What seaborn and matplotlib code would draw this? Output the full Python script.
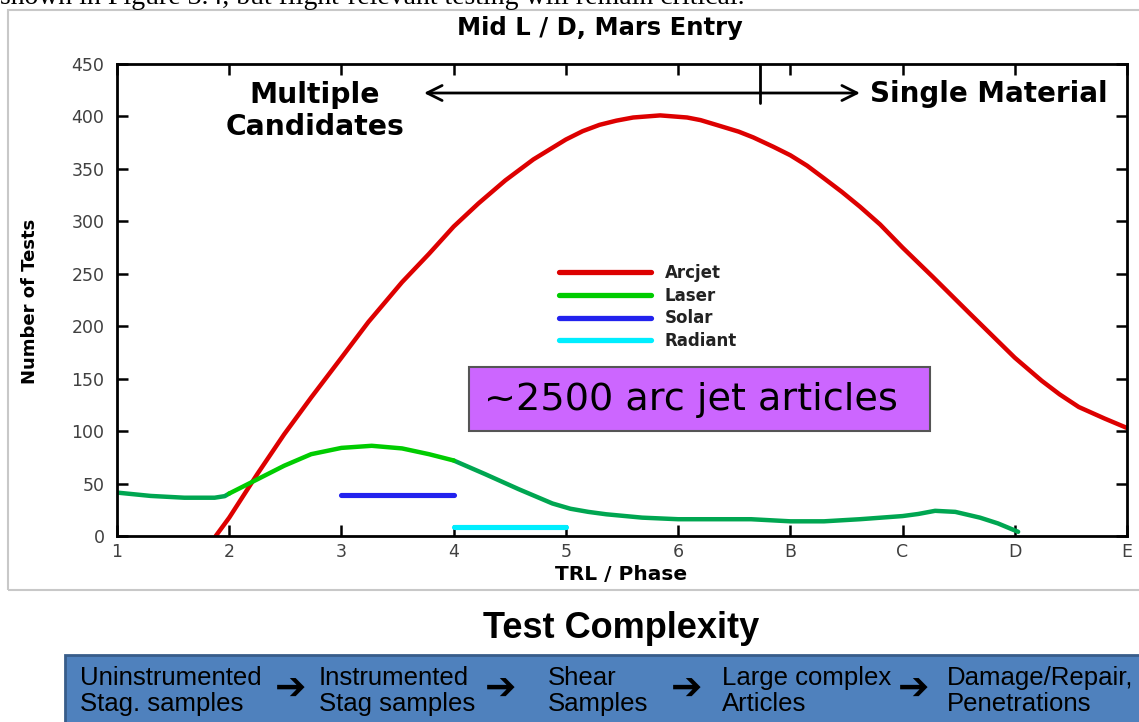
import matplotlib
matplotlib.use("Agg")
import matplotlib.pyplot as plt
import matplotlib.patches as mpatches
import seaborn as sns
import numpy as np

# ---------------- data ----------------
tick_labels = ["1", "2", "3", "4", "5", "6", "B", "C", "D", "E"]
y_ticks = [0, 50, 100, 150, 200, 250, 300, 350, 400, 450]

arcjet_x = [1.88, 2.0, 2.25, 2.49, 2.73, 3.0, 3.24, 3.54, 3.78, 4.0, 4.22, 4.46, 4.71,
            5.0, 5.15, 5.30, 5.45, 5.60, 5.84, 6.08, 6.20, 6.34, 6.54, 6.67, 6.85, 7.0, 7.15,
            7.30, 7.46, 7.62, 7.8, 8.0, 8.27, 8.60, 8.8, 9.0, 9.24, 9.4, 9.57, 9.8, 10.0]
arcjet_y = [0, 17.5, 59, 97, 132, 170, 204, 242, 269, 295, 317, 339, 359,
            378, 386, 392, 396, 399, 401, 399, 396.5, 392, 385.5, 380, 371, 363, 353,
            341, 328, 314, 297, 275, 247, 212, 191, 170, 148, 135, 123, 112, 103]

laser_x = [1.0, 1.30, 1.60, 1.87, 1.96, 2.0, 2.25, 2.49, 2.73, 3.0, 3.27, 3.54, 3.78,
           4.0, 4.28, 4.58, 4.88, 5.04, 5.2, 5.36, 5.68, 6.0, 6.33, 6.65, 7.0, 7.30,
           7.62, 8.0, 8.14, 8.29, 8.47, 8.69, 8.85, 9.03]
laser_y = [41.4, 38.2, 36.5, 36.5, 38, 40.5, 54, 67, 78, 84, 86, 83.5, 78,
           72, 59, 44.6, 31, 26, 23, 20.7, 17.5, 16, 16, 16, 14, 14,
           16, 19, 21, 24, 23, 17.5, 12, 4]

solar_x = [3.0, 4.0]
solar_y = [39, 39]
radiant_x = [4.0, 5.0]
radiant_y = [9, 9]

steps = ["Uninstrumented\nStag. samples", "Instrumented\nStag samples",
         "Shear\nSamples", "Large complex\nArticles", "Damage/Repair,\nPenetrations"]

# ---------------- styling ----------------
sns.set_theme(style="ticks")
SANS = ["DejaVu Sans"]
plt.rcParams["font.family"] = SANS
plt.rcParams["text.color"] = "black"
ARIAL = ["Liberation Sans", "DejaVu Sans"]

W, H = 1139, 722
fig = plt.figure(figsize=(W / 100, H / 100), dpi=100)
fig.patch.set_facecolor("white")


def fx(px):
    return px / W


def fy(py):
    return 1 - py / H


# frame around chart
fig.patches.append(mpatches.Rectangle((fx(8), fy(590)), fx(1200) - fx(8), fy(10) - fy(590),
                                      transform=fig.transFigure, fill=False,
                                      edgecolor="#c8c8c8", linewidth=1.5))

# clipped body text at the top (cut off in the reference as well)
fig.text(fx(0), fy(4), "shown in Figure 3.4, but flight-relevant testing will remain critical.",
         family=["Liberation Serif", "DejaVu Serif"], fontsize=20, ha="left", va="baseline")

ax = fig.add_axes([fx(117), fy(536), fx(1127) - fx(117), fy(64) - fy(536)])
ax.set_facecolor("white")

RED = "#dd0000"
GREEN_D = "#00a651"
GREEN_B = "#00cc00"
BLUE = "#2222ee"
CYAN = "#00eeff"
LW = 3.2

lx = np.array(laser_x)
ly = np.array(laser_y)
left = lx <= 2.0
mid = (lx >= 2.0) & (lx <= 4.0)
right = lx >= 4.0

sns.lineplot(x=arcjet_x, y=arcjet_y, ax=ax, color=RED, linewidth=LW, label="Arcjet")
sns.lineplot(x=lx[left], y=ly[left], ax=ax, color=GREEN_D, linewidth=LW, label="_nolegend_")
sns.lineplot(x=lx[right], y=ly[right], ax=ax, color=GREEN_D, linewidth=LW, label="_nolegend_")
sns.lineplot(x=lx[mid], y=ly[mid], ax=ax, color=GREEN_B, linewidth=LW, label="Laser")
sns.lineplot(x=solar_x, y=solar_y, ax=ax, color=BLUE, linewidth=LW + 0.5, label="Solar")
sns.lineplot(x=radiant_x, y=radiant_y, ax=ax, color=CYAN, linewidth=LW + 0.5, label="Radiant")

ax.set_xlim(1, 10)
ax.set_ylim(0, 450)
ax.set_xticks(range(1, 11))
ax.set_xticklabels(tick_labels)
ax.set_yticks(y_ticks)
ax.tick_params(direction="in", length=8, width=1.8, top=True, right=True,
               colors="black", labelcolor="#404040", labelsize=12.5)
ax.tick_params(axis="x", pad=5)
ax.tick_params(axis="y", pad=9)
for s in ax.spines.values():
    s.set_visible(True)
    s.set_linewidth(2)
    s.set_color("black")
ax.set_xlabel("")
ax.set_ylabel("")

# legend
leg = ax.legend(loc="upper left", bbox_to_anchor=(fx(559), fy(264)),
                bbox_transform=fig.transFigure, frameon=False, handlelength=5.5,
                handletextpad=0.85, labelspacing=0.28, borderpad=0, borderaxespad=0,
                prop={"family": SANS, "weight": "bold", "size": 12})
for t in leg.get_texts():
    t.set_color("#222222")
for h in leg.get_lines():
    h.set_linewidth(3.8)

# axis labels and title
fig.text(fx(600), fy(28), "Mid L / D, Mars Entry", ha="center", va="center",
         fontsize=17.5, fontweight="bold")
fig.text(fx(30), fy(301), "Number of Tests", ha="center", va="center", rotation=90,
         fontsize=13, fontweight="bold")
fig.text(fx(621), fy(575), "TRL / Phase", ha="center", va="center",
         fontsize=14.5, fontweight="bold")

# annotations inside plot
fig.text(fx(315), fy(111), "Multiple\nCandidates", ha="center", va="center",
         fontsize=20.3, fontweight="bold", linespacing=1.15)
fig.text(fx(989), fy(94), "Single Material", ha="center", va="center",
         fontsize=20, fontweight="bold")
ax.annotate("", xy=(fx(424), fy(93)), xytext=(fx(860), fy(93)),
            xycoords=fig.transFigure, textcoords=fig.transFigure,
            arrowprops=dict(arrowstyle="<->,head_length=0.9,head_width=0.45",
                            lw=2, color="black", shrinkA=0, shrinkB=0))
ax.plot([fx(760), fx(760)], [fy(64), fy(103)], transform=fig.transFigure,
        color="black", lw=2)

# purple callout
fig.patches.append(mpatches.Rectangle((fx(469), fy(431)), fx(930) - fx(469), fy(367) - fy(431),
                                      transform=fig.transFigure, facecolor="#cc66ff",
                                      edgecolor="#555555", linewidth=1.5))
fig.text(fx(691), fy(400), "~2500 arc jet articles", ha="center", va="center",
         fontsize=27.5)

# Test complexity section
fig.text(fx(621), fy(628), "Test Complexity", ha="center", va="center",
         fontsize=26, fontweight="bold", family=ARIAL)
fig.patches.append(mpatches.Rectangle((fx(65), fy(740)), fx(1200) - fx(65), fy(655) - fy(740),
                                      transform=fig.transFigure, facecolor="#4f81bd",
                                      edgecolor="#385d8a", linewidth=2))
step_x = [80, 319, 548, 722, 947]
arrow_x = [291, 501, 687, 914]
for sx, txt in zip(step_x, steps):
    fig.text(fx(sx), fy(691), txt, ha="left", va="center", fontsize=18.5,
             family=ARIAL, linespacing=1.12, color="black")
for axp in arrow_x:
    fig.text(fx(axp), fy(690), "\u2794", ha="center", va="center", fontsize=27,
             family=["DejaVu Sans"], fontweight="bold", color="black")

fig.savefig("out.png", dpi=100, facecolor="white")
